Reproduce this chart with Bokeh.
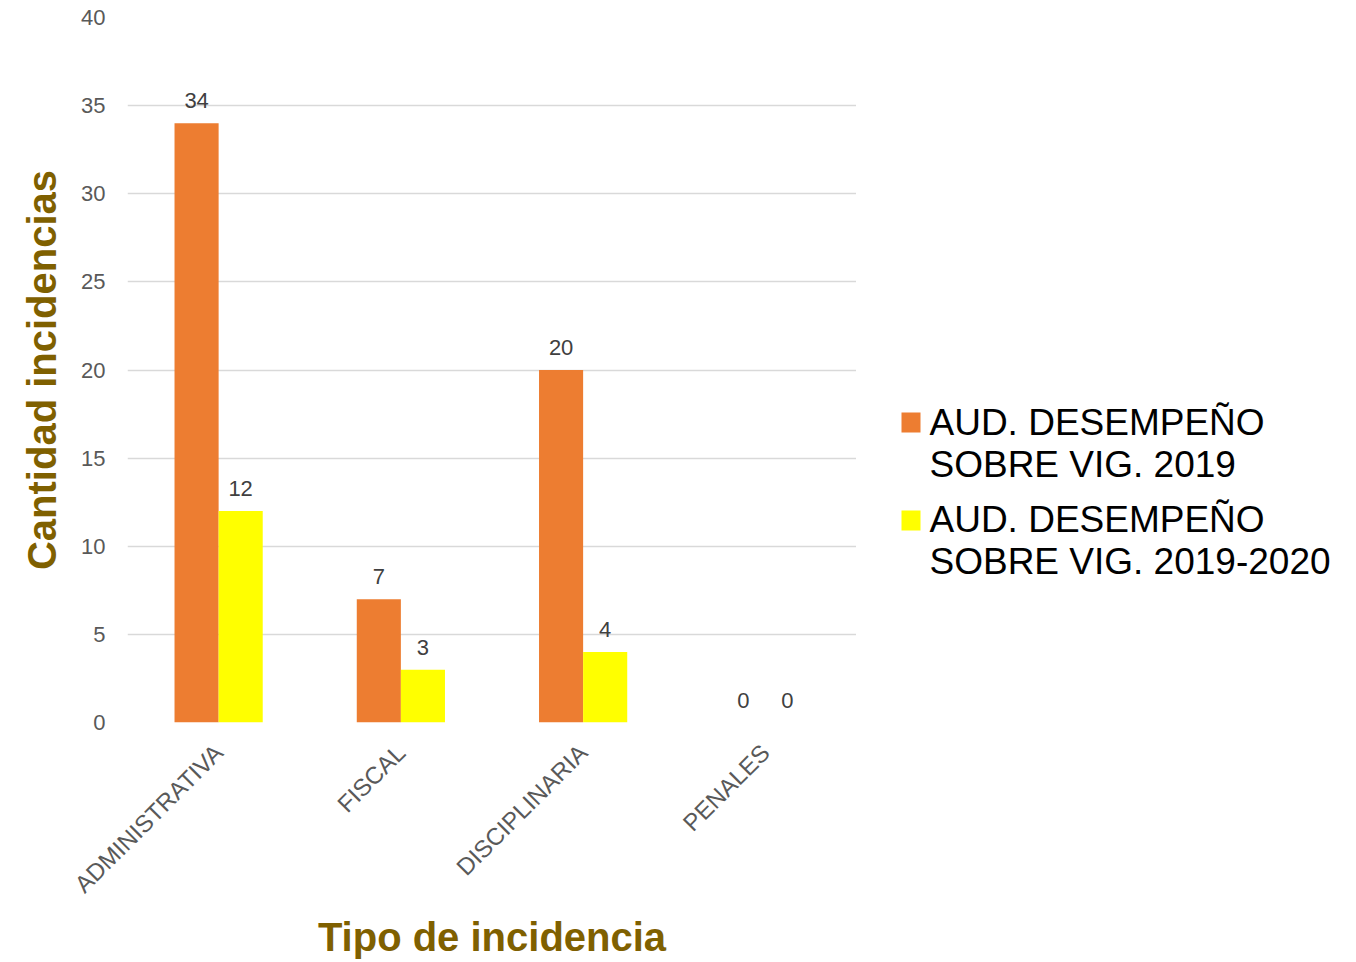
from bokeh.plotting import figure
from bokeh.models import (FactorRange, ColumnDataSource, FixedTicker, LabelSet, Range1d)
from bokeh.core.properties import value
from bokeh.transform import dodge
from bokeh.layouts import row
from bokeh.embed import file_html
from bokeh.resources import INLINE
import math

categories = ["ADMINISTRATIVA", "FISCAL", "DISCIPLINARIA", "PENALES"]
series_2019 = [34, 7, 20, 0]
series_2020 = [12, 3, 4, 0]
series_names = ["AUD. DESEMPEÑO\nSOBRE VIG. 2019", "AUD. DESEMPEÑO\nSOBRE VIG. 2019-2020"]
y_ticks = [0, 5, 10, 15, 20, 25, 30, 35, 40]

ORANGE = "#ED7D31"
YELLOW = "#FFFF00"
TITLE_COLOR = "#7F6000"
BASE_FONT = "Liberation Sans"

H = 962
TOP, BOTTOM = 17, 240

src = ColumnDataSource(data=dict(
    cat=categories, s2019=series_2019, s2020=series_2020,
    l2019=[str(v) for v in series_2019], l2020=[str(v) for v in series_2020]))

p = figure(x_range=FactorRange(*categories, range_padding=0), y_range=Range1d(0, 40),
           width=856, height=H, output_backend="svg", toolbar_location=None,
           min_border_left=127, min_border_top=TOP, min_border_right=0, min_border_bottom=BOTTOM)

r1 = p.vbar(x=dodge("cat", -0.121, range=p.x_range), top="s2019", width=0.242, source=src,
            fill_color=ORANGE, line_color=None)
r2 = p.vbar(x=dodge("cat", 0.121, range=p.x_range), top="s2020", width=0.242, source=src,
            fill_color=YELLOW, line_color=None)

for col, ycol, off in (("l2019", "s2019", -22), ("l2020", "s2020", 22)):
    ls = LabelSet(x="cat", y=ycol, text=col, source=src, x_offset=off, y_offset=15,
                  text_align="center", text_baseline="alphabetic",
                  text_font=value(BASE_FONT), text_font_size="22px", text_color="#404040")
    p.add_layout(ls)

p.outline_line_color = None
p.xgrid.grid_line_color = None
p.ygrid.grid_line_color = "#D9D9D9"
p.ygrid.grid_line_width = 1.5
p.yaxis.ticker = FixedTicker(ticks=y_ticks)

for ax in (p.xaxis[0], p.yaxis[0]):
    ax.axis_line_color = None
    ax.major_tick_line_color = None
    ax.minor_tick_line_color = None
    ax.major_tick_out = 0
    ax.major_tick_in = 0
    ax.major_label_text_font = BASE_FONT
    ax.major_label_text_color = "#595959"
    ax.axis_label_text_font = BASE_FONT
    ax.axis_label_text_font_style = "bold"
    ax.axis_label_text_font_size = "40px"
    ax.axis_label_text_color = TITLE_COLOR

p.yaxis.major_label_text_font_size = "22px"
p.xaxis.major_label_text_font_size = "24px"
p.yaxis.axis_label = "Cantidad incidencias"
p.yaxis.major_label_standoff = 22
p.yaxis.axis_label_standoff = 14
p.xaxis.axis_label = "Tipo de incidencia"
p.xaxis.major_label_orientation = math.pi / 4
p.xaxis.major_label_standoff = 26
p.xaxis.axis_label_standoff = 5

# Legend panel to the right of the chart; its frame shares the chart's vertical extent,
# and its y range is expressed in page pixels (top = 17, bottom = 962 - 240).
lg = figure(width=494, height=H, output_backend="svg", toolbar_location=None,
            x_range=Range1d(0, 494), y_range=Range1d(H - BOTTOM, TOP),
            min_border_left=0, min_border_right=0, min_border_top=TOP, min_border_bottom=BOTTOM)
lg.axis.visible = False
lg.grid.visible = False
lg.outline_line_color = None

swatch_colors = [ORANGE, YELLOW]
swatch_x = 45 + 9.5
swatch_y = [422, 520]
line1_base = [422, 519]
line_gap = 42
lg.rect(x=[swatch_x] * 2, y=swatch_y, width=19, height=20, fill_color=swatch_colors,
        line_color=None)
texts, tx, ty = [], [], []
for name, b in zip(series_names, line1_base):
    for k, line in enumerate(name.split("\n")):
        texts.append(line)
        tx.append(73)
        ty.append(b + k * line_gap)
lg.text(x=tx, y=ty, text=texts, text_font=value(BASE_FONT), text_font_size="37px",
        text_baseline="alphabetic", text_align="left", text_color="#000000")

open("out.html", "w").write(file_html(row(p, lg), INLINE))
